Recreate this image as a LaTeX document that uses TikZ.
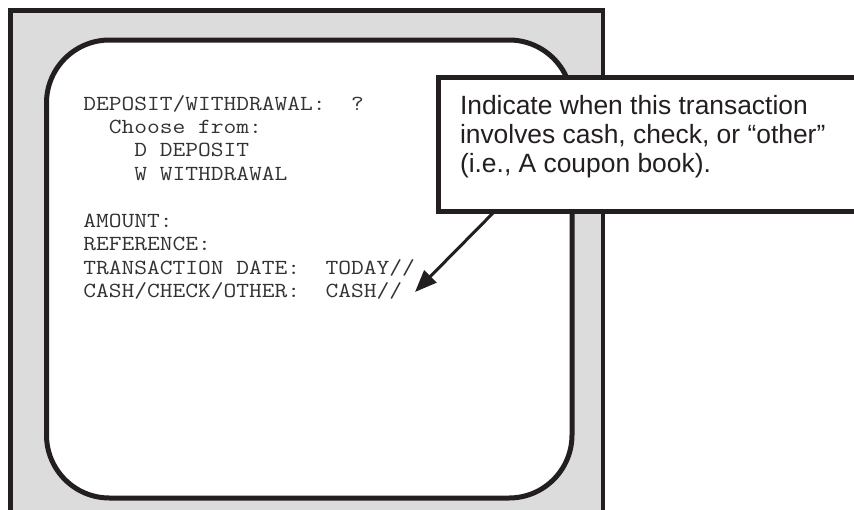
\documentclass[tikz,border=0pt]{standalone}
\usepackage{fontspec}
\setmainfont{Liberation Sans}
\setmonofont[FakeStretch=1.152]{Latin Modern Mono}
\usetikzlibrary{arrows.meta,calc}
\definecolor{ink}{RGB}{35,31,32}
\definecolor{panel}{RGB}{220,220,220}
\definecolor{screentext}{RGB}{50,50,50}

\begin{document}
\begin{tikzpicture}[x=1pt,y=-1pt,
  frame/.style={draw=ink, line width=4.5pt, fill=panel},
  screen/.style={draw=ink, line width=5pt, fill=white, rounded corners=63pt},
  screenline/.style={anchor=base west, inner sep=0pt, outer sep=0pt,
    font=\ttfamily\fontsize{21.5}{23.4}\selectfont, text=screentext},
  notebox/.style={draw=ink, line width=5pt, fill=white, anchor=north west,
    inner sep=0pt, outer sep=0pt},
  noteline/.style={anchor=base west, inner sep=0pt, outer sep=0pt,
    font=\fontsize{26.4}{29}\selectfont, text=ink},
  pointer/.style={draw=ink, line width=3pt,
    -{Triangle[length=22pt,width=17pt]}},
]
\useasboundingbox (0,0) rectangle (854,509);

% terminal housing and screen
\draw[frame] (10.5,10.5) rectangle (603,530);
\draw[screen] (46.5,40) rectangle (572,498);

% screen prompts
\node[screenline] (l1) at (83.3,110.0) {DEPOSIT/WITHDRAWAL:~~?};
\node[screenline] (l2) at (83.3,133.4) {~~Choose from:};
\node[screenline] (l3) at (83.3,156.9) {~~~~D DEPOSIT};
\node[screenline] (l4) at (83.3,180.3) {~~~~W WITHDRAWAL};
\node[screenline] (l5) at (83.3,227.2) {AMOUNT:};
\node[screenline] (l6) at (83.3,250.6) {REFERENCE:};
\node[screenline] (l7) at (83.3,274.1) {TRANSACTION DATE:~~TODAY//};
\node[screenline] (l8) at (83.3,297.5) {CASH/CHECK/OTHER:~~CASH//};

% explanatory callout
\node[notebox, minimum width=450pt, minimum height=133.5pt] (note) at (438,77.5) {};
\node[noteline] (n1) at (460,114.5) {Indicate when this transaction};
\node[noteline] (n2) at (460,143.5) {involves cash, check, or “other”};
\node[noteline] (n3) at (460,172.5) {(i.e., A coupon book).};

% pointer to the cash/check/other field
\coordinate (tip) at (415,292);
\draw[pointer] ($(note.south west)+(57,0)$) -- (tip);
\end{tikzpicture}
\end{document}
